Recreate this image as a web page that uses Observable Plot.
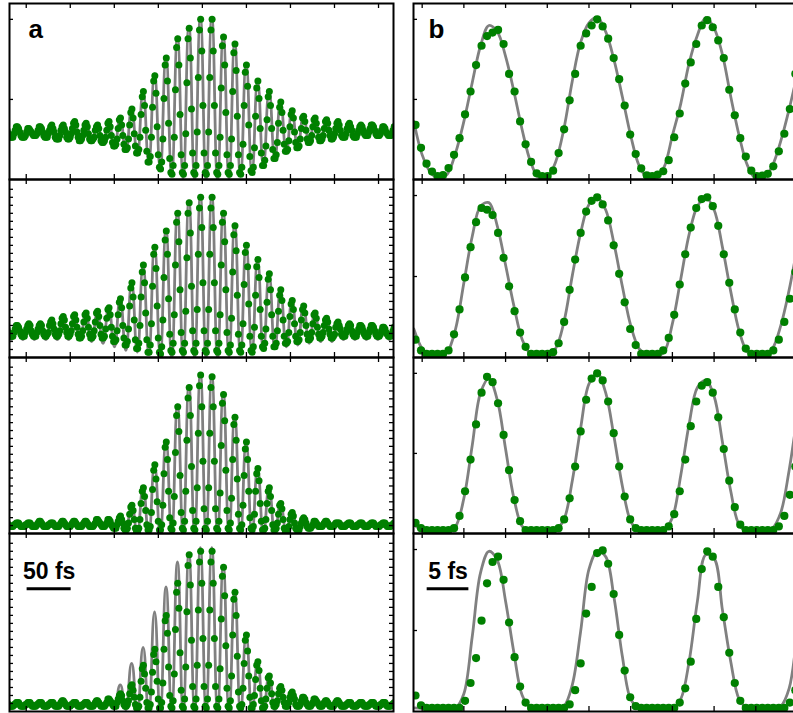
<!DOCTYPE html>
<html>
<head>
<meta charset="utf-8">
<script src="https://cdn.jsdelivr.net/npm/d3@7"></script>
<script src="https://cdn.jsdelivr.net/npm/@observablehq/plot@0.6"></script>
<style>
  body { margin: 0; background: #fff; overflow: hidden; }
  #fig { position: relative; width: 793px; height: 713px; overflow: hidden; background: #fff; }
  #fig > div { position: absolute; }
  #fig svg { display: block; }
</style>
</head>
<body>
<div id="fig"></div>
<script>
const parse = s => s.trim().split(/\s+/).map(Number);

// ---- axes (delay in fs, signal in % of full scale) ----
const delayTicksA = [-200, -150, -100, -50, 0, 50, 100, 150, 200];
const delayTicksB = [0, 5, 10, 15, 20, 25, 30, 35, 40, 45];
const signalTicksMajor = [45.5, 91];
const signalTicksMinor = [4.5, 9, 13.5, 18, 22.5, 27, 31.5, 36, 40.5, 45, 49.5, 54, 58.5, 63, 67.5, 72, 76.5, 81, 85.5, 90, 94.5];
const scaleBars = [{label: "50 fs", length: 50}, {label: "5 fs", length: 5}];

// ---- column a: full autocorrelation traces ----
// fit: fringe maxima and minima, alternating, half a fringe (6.5 fs) apart
const fitStartA = -223.3, fitStepA = 6.5;
const fitA1 = parse(`29 24 30 24 29 25 30 24 31 23 31 23 33 22 32 22 31 20 33 18 35 16 40 14 50 10 60 6 70 3 81 1 87 0 92 0 92 0 82 1 78 2 66 4 56 8 50 12 44 16 39 18 36 21 35 22 34 23 33 24 32 24 31 25 31 25 30 25 30`);
const fitA2 = parse(`17 10 18 10 19 10 19 10 20 10 21 10 23 10 25 9 25 8 28 6 33 4 42 3 52 2 63 1 72 0 82 0 88 0 91 0 91 0 82 1 75 2 64 3 55 4 47 5 38 6 32 7 29 8 25 9 22 9 20 10 19 10 18 10 18 10 17 10 17`);
const fitA3 = parse(`6 4 6 4 6 4 7 4 6 4 7 4 7 4 7 4 8 4 8 3 10 2 16 1 26 0 39 0 53 0 73 0 84 0 91 0 90 0 80 0 67 0 52 0 37 0 26 0 17 1 12 2 9 3 7 4 7 4 6 4 6 4 6 4 6 4 6 4 6`);
const fitA4 = parse(`5 3 5 3 6 3 5 3 5 3 6 3 5 3 6 3 6 3 7 2 15 1 27 0 36 0 56 0 70 0 84 0 89 0 92 0 92 0 82 0 68 0 43 0 28 0 20 1 14 2 12 3 8 3 7 3 6 3 6 3 5 3 5 3 5 3 5 3 5`);

// measured points, 1.3 fs apart (ten per fringe)
const dotStartA = -222.975, dotStepA = 1.3;
const dotsA1 = parse(`
29 28 26 25 24 24 24 26 28 30
30 29 27 25 24 24 24 25 27 29
29 28 27 26 25 25 25 26 28 30
30 29 27 25 24 24 24 26 28 30
31 29 27 24 23 23 23 25 28 30
31 29 27 24 23 23 24 26 29 32
33 31 27 24 22 22 23 25 28 31
32 30 26 23 22 22 23 24 28 30
31 29 25 22 21 21 22 24 28 32
33 30 25 21 19 19 20 23 29 34
35 31 25 20 17 17 18 23 31 38
40 35 26 19 15 15 17 24 37 47
50 42 28 16 10 10 13 24 41 56
59 49 30 14 7 6 10 23 46 65
69 56 32 12 4 3 8 24 51 75
80 65 37 14 4 3 8 26 55 80
86 69 40 15 4 3 8 27 58 85
91 73 42 15 4 3 8 27 58 85
91 73 42 15 4 3 8 24 52 76
81 65 38 14 4 3 8 23 50 72
77 62 36 14 4 3 7 20 42 61
65 53 31 13 5 4 7 18 36 52
56 46 29 15 8 8 11 19 34 47
50 42 29 17 12 12 14 21 32 41
44 38 28 20 16 16 17 22 30 37
39 35 27 21 18 18 19 23 29 35
36 33 28 23 21 21 22 25 30 34
35 32 28 24 22 22 23 25 29 33
34 32 28 25 23 23 24 26 29 32
33 31 28 25 24 24 24 26 29 31
32 30 28 25 24 24 24 26 28 30
31 30 28 26 25 25 25 27 29 31
31 30 28 26 25 25 25 26 28 30
30 29 27 26 25 25 25 26 28 30`);
const dotsA2 = parse(`
17 16 14 13 12 12 12 14 16 18
18 17 15 13 12 12 12 14 16 18
19 18 15 13 12 12 12 14 16 18
19 18 15 13 12 12 13 14 18 20
21 19 16 13 12 12 13 15 19 22
23 21 17 14 12 12 13 15 19 23
24 21 17 13 11 11 12 15 20 24
25 22 17 13 11 11 12 15 20 25
26 23 18 13 11 11 12 16 22 27
28 24 17 12 9 9 10 15 24 31
33 28 18 11 7 7 9 16 29 39
42 34 21 10 5 5 8 18 34 48
52 42 25 10 3 3 7 19 40 58
62 50 29 11 3 2 6 21 45 66
71 58 33 13 4 3 8 24 52 76
81 65 38 14 4 3 8 26 56 81
87 70 40 15 4 3 8 27 58 84
90 73 42 15 4 3 8 27 58 84
90 73 42 15 4 3 8 24 52 76
81 65 38 14 4 3 7 22 48 69
74 60 35 13 4 3 7 19 41 59
63 51 30 12 4 3 6 17 35 51
55 45 27 12 6 5 8 16 31 44
47 38 24 12 6 6 8 15 26 35
38 32 21 12 8 8 9 14 23 30
32 27 19 12 9 9 10 14 21 27
29 25 18 13 10 10 11 14 19 24
25 22 17 13 11 11 12 14 18 21
22 20 16 13 11 11 12 13 17 19
20 18 16 13 12 12 12 14 16 18
19 18 15 13 12 12 12 14 16 18
18 17 15 13 12 12 12 14 16 18
18 17 15 13 12 12 12 13 15 17
17 16 14 13 12 12 12 13 15 17`);
const dotsA3 = parse(`
6 6 5 4 4 4 4 5 5 6
6 6 5 4 4 4 4 5 5 6
6 6 5 4 4 4 4 5 6 7
7 6 5 4 4 4 4 5 5 6
6 6 5 4 4 4 4 5 6 7
7 6 5 4 4 4 4 5 6 7
7 6 5 4 4 4 4 5 6 7
7 6 5 4 4 4 4 5 6 8
8 7 6 5 4 4 4 5 6 8
8 7 5 4 3 3 3 5 7 9
10 8 6 3 2 2 3 6 11 15
16 13 8 3 1 1 3 8 17 24
26 21 13 5 2 2 4 12 25 36
39 31 18 7 2 2 5 16 34 49
52 42 24 9 3 2 6 21 46 67
72 58 33 12 3 2 7 24 53 77
83 67 38 13 3 2 7 26 57 84
90 72 41 14 3 2 7 26 57 83
89 72 41 14 3 2 7 23 50 74
79 64 36 13 3 2 6 20 42 62
66 53 31 11 3 2 5 16 33 48
52 42 24 9 3 2 4 11 24 34
37 30 17 7 2 2 3 8 17 24
26 21 13 5 2 2 3 6 11 16
17 14 8 3 1 1 2 4 8 11
12 10 6 3 2 2 2 4 6 8
9 8 6 4 3 3 3 4 5 7
7 6 5 4 4 4 4 5 6 7
7 6 5 4 4 4 4 5 6 6
6 6 5 4 4 4 4 5 5 6
6 6 5 4 4 4 4 5 5 6
6 6 5 4 4 4 4 5 5 6
6 6 5 4 4 4 4 5 5 6
6 6 5 4 4 4 4 5 5 6`);
const dotsA4 = parse(`
5 5 4 3 3 3 3 4 4 5
5 5 4 3 3 3 3 4 4 5
5 5 4 3 3 3 3 4 4 5
5 5 4 3 3 3 3 4 4 5
5 5 4 3 3 3 3 4 5 6
6 5 4 3 3 3 3 4 4 5
5 5 4 3 3 3 3 4 4 5
5 5 4 3 3 3 3 4 5 6
6 5 4 3 3 3 3 4 5 7
7 6 5 4 3 3 3 5 7 9
10 9 6 4 3 3 4 6 10 14
15 12 8 4 2 2 3 8 17 24
26 21 13 5 2 2 4 11 22 32
35 28 17 7 2 2 5 16 35 51
54 44 25 9 3 2 6 21 46 67
72 58 33 12 3 2 7 25 56 82
88 71 40 14 3 2 7 26 57 84
90 72 41 14 3 2 7 26 57 84
90 72 41 14 3 2 7 24 52 76
81 65 37 13 3 2 6 20 43 63
67 54 31 11 3 2 4 13 27 40
43 34 20 8 2 2 4 9 18 26
28 23 13 6 2 2 3 7 13 19
20 16 10 5 3 3 4 6 10 13
14 12 8 5 3 3 3 5 8 10
11 9 7 4 3 3 3 4 6 8
8 7 5 4 3 3 3 4 5 7
7 6 5 4 3 3 3 4 5 6
6 5 4 3 3 3 3 4 5 6
6 5 4 3 3 3 3 4 4 5
5 5 4 3 3 3 3 4 4 5
5 5 4 3 3 3 3 4 4 5
5 5 4 3 3 3 3 4 4 5
5 5 4 3 3 3 3 4 4 5`);

// ---- column b: central fringes ----
const fitStartB = -1, fitStepB = 1;
const fitB1 = parse(`33 14 4 0.5 3 15 33 55 76 87.5 84 70 50 28 10 1 1 10 29 56 78 89 92 84 68 47 25 8 1 1 7 25 43 66 82 92 86 71 47 25 8 0.5 1 8 22 40 60 78`);
const fitB2 = parse(`16 5 1 0.5 3 16 42 68 85 87 74 52 29 10 2 0.5 1 5 20 46 70 86 90 83 64 40 18 5 1 0.5 3 19 44 69 85 90 83 62 37 15 3 0.5 1 5 18 38 62 82`);
const fitB3 = parse(`5 2 1 1 1 4 20 50 80 88 76 48 20 4 1 1 1 2 8 30 60 85 91 80 55 27 7 1 1 1 2 9 33 62 83 87 78 52 24 5 1 1 1 3 12 36 66 86`);
const fitB4 = parse(`2 1.7 1.7 1.7 1.7 2 10 42 78 90 85 62 33 9 2 1.7 1.7 1.7 3 15 45 80 90 87 64 31 7 2 1.7 1.7 1.7 2 7 28 62 88 86 57 28 7 2 1.7 1.7 1.7 3 13 45 80`);

const dotStartB = -0.8, dotStepB = 0.66;
const dotsB1 = parse(`31 18 9 4.5 2 2.5 6.5 14 23.5 37 50 65 76 81.5 83.5 85 77 60 50 33 20 10 3.5 2 2 5 15 28.5 45 60 76 83 87.5 91 87 80 69 57 42 25.5 14.5 6.3 2.4 2 2.8 4.7 11 24 37.5 54.5 66.5 77 87.5 90.5 86.5 79 69 51 36.5 23.5 13 5 2 2.2 3.2 7.5 16 26 40 60`);
const dotsB2 = parse(`10 4 2 2 2 2 4 13 27 45 62 76 84 83 80 70 56 40 26 14 6 2 2 2 2 3 8 20 38 55 70 82 88 90 86 77 63 47 31 16 7 2 2 2 2 4 11 24 41 58 73 84 89 90 85 74 58 42 27 14 5 2 2 2 2 4 10 20 33 48`);
const dotsB3 = parse(`6 3 2 2 2 2 2 3 10 24 42 62 80 89 86 74 56 36 19 7 2 2 2 2 2 2 3 8 20 38 58 76 88 91 87 75 57 38 21 8 3 2 2 2 2 2 4 11 24 42 61 75 84 86 80 66 48 30 15 5 2 2 2 2 2 2 4 10 22 38`);
const dotsB4 = parse(`9 3.5 2 2 2 2 2 2 2 6 16 30 51 72 84 87 74 50 30.5 14 5 2 2 2 2 2 2 2 4 12 27 55 70 89 90.5 83 66 43 23 8 3 2 2 2 2 2 2 2 5 13 28 52 80 90 87 70 53 33 16 6 2 2 2 2 2 2 2 2 5 12`);

// ---- drawing ----
const series = (values, start, step) => values.map((v, i) => ({t: start + i * step, v}));
const FONT = "Liberation Sans, Arial, Helvetica, sans-serif";
const GREY = "#808080", GREEN = "#008000";
const fig = document.getElementById("fig");

const rows = [{top: 3, h: 176}, {top: 179, h: 178}, {top: 357, h: 176}, {top: 533, h: 178}];
const colA = {left: 9, w: 384, domain: [-219, 217], ticks: delayTicksA, curve: "bump-x", r: 3.5,
  fitStart: fitStartA, fitStep: fitStepA, dotStart: dotStartA, dotStep: dotStepA};
const colB = {left: 413, w: 387, domain: [-1.04, 45.36], ticks: delayTicksB, curve: "catmull-rom", r: 4.1,
  fitStart: fitStartB, fitStep: fitStepB, dotStart: dotStartB, dotStep: dotStepB};

function panel(col, row, fit, dots, {yLeft, yRight, extra = []} = {}) {
  const m = 2;
  const width = col.w + 2 * m, height = row.h + 2 * m;
  const tickStyle = {stroke: "black", strokeWidth: 1.3};
  const marks = [
    Plot.line(series(fit, col.fitStart, col.fitStep), {x: "t", y: "v", stroke: GREY, strokeWidth: 2.8, curve: col.curve, clip: true}),
    Plot.dot(series(dots, col.dotStart, col.dotStep), {x: "t", y: "v", r: col.r, fill: GREEN, stroke: "none", clip: true}),
    Plot.tickX(col.ticks, {x: d => d, ...tickStyle, insetBottom: row.h - 5}),
    Plot.tickX(col.ticks, {x: d => d, ...tickStyle, insetTop: row.h - 5})
  ];
  if (yLeft) marks.push(Plot.tickY(yLeft, {y: d => d, ...tickStyle, insetRight: col.w - 4}));
  if (yRight) marks.push(Plot.tickY(yRight, {y: d => d, ...tickStyle, insetLeft: col.w - 4}));
  marks.push(...extra, Plot.frame({stroke: "black", strokeWidth: 2}));
  const svg = Plot.plot({
    width, height,
    marginTop: m, marginBottom: m, marginLeft: m, marginRight: m,
    x: {domain: col.domain, axis: null},
    y: {domain: [0, 100], axis: null},
    style: {fontFamily: FONT, background: "transparent", maxWidth: "none", overflow: "visible"},
    marks
  });
  const div = document.createElement("div");
  div.style.left = (col.left - m) + "px";
  div.style.top = (row.top - m) + "px";
  div.style.width = width + "px";
  div.style.height = height + "px";
  div.append(svg);
  fig.append(div);
}

const letter = (s, dx) => Plot.text([s], {text: d => d, frameAnchor: "top-left", dx, dy: 34, lineAnchor: "bottom",
  textAnchor: "start", fontSize: 26, fontWeight: "bold", fill: "black", fontFamily: FONT});

function scaleBar(bar, start) {
  return [
    Plot.ruleY([69], {x1: start, x2: start + bar.length, stroke: "black", strokeWidth: 3}),
    Plot.text([bar.label], {text: d => d, x: start + bar.length / 2, y: 74.5, lineAnchor: "bottom",
      textAnchor: "middle", fontSize: 23, fontWeight: "bold", fill: "black", fontFamily: FONT})
  ];
}

// column a
panel(colA, rows[0], fitA1, dotsA1, {yLeft: signalTicksMajor, extra: [letter("a", 19)]});
panel(colA, rows[1], fitA2, dotsA2, {yLeft: signalTicksMinor, yRight: signalTicksMinor});
panel(colA, rows[2], fitA3, dotsA3, {yLeft: signalTicksMinor, yRight: signalTicksMinor});
panel(colA, rows[3], fitA4, dotsA4, {yLeft: signalTicksMinor, yRight: signalTicksMinor, extra: scaleBar(scaleBars[0], -199)});

// column b
panel(colB, rows[0], fitB1, dotsB1, {yLeft: signalTicksMajor, extra: [letter("b", 15)]});
panel(colB, rows[1], fitB2, dotsB2, {yLeft: signalTicksMajor});
panel(colB, rows[2], fitB3, dotsB3, {yLeft: signalTicksMajor});
panel(colB, rows[3], fitB4, dotsB4, {yLeft: signalTicksMajor, extra: scaleBar(scaleBars[1], 0.6)});
</script>
</body>
</html>
